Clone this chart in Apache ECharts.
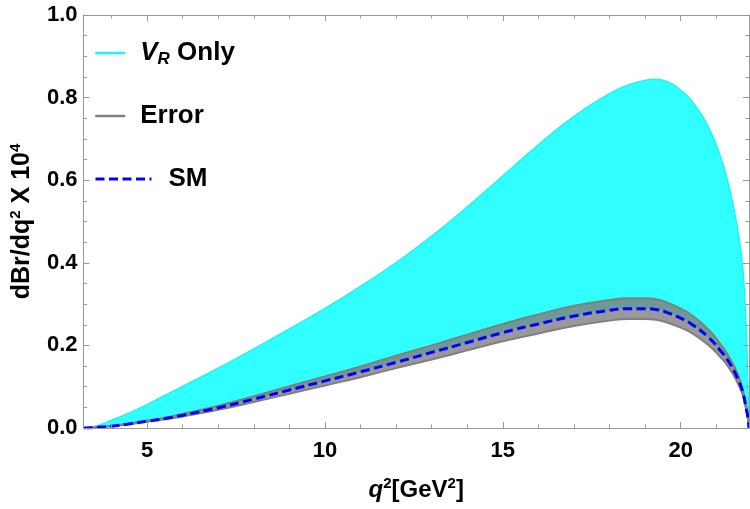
<!DOCTYPE html>
<html>
<head>
<meta charset="utf-8">
<title>dBr/dq2</title>
<script src="https://cdn.jsdelivr.net/npm/echarts@6/dist/echarts.min.js"></script>
<style>
    html, body { margin: 0; padding: 0; background: #fff; }
    #chart { width: 750px; height: 509px; }
</style>
</head>
<body>
<div id="chart"></div>
<script>
// q^2 sample points (GeV^2)
var q2 = [3.21, 3.6, 4, 4.5, 5, 5.5, 6, 7, 8, 9, 10, 11, 12, 13, 14, 15, 16, 17, 18, 18.5,
    19, 19.3, 19.7, 20, 20.35, 20.8, 21.1, 21.3, 21.5, 21.65, 21.75, 21.84, 21.89, 21.92];
// SM central value
var smMid = [0, 0.0015, 0.0045, 0.010, 0.0165, 0.023, 0.031, 0.049, 0.070, 0.092, 0.114, 0.136, 0.159, 0.183, 0.207, 0.231, 0.252, 0.271, 0.285, 0.289,
    0.289, 0.287, 0.277, 0.266, 0.249, 0.218, 0.189, 0.167, 0.138, 0.110, 0.085, 0.048, 0.025, 0];
// SM error band
var errLow = [0, 0.0013, 0.004, 0.009, 0.015, 0.021, 0.028, 0.044, 0.063, 0.083, 0.103, 0.123, 0.145, 0.166, 0.188, 0.210, 0.229, 0.247, 0.260, 0.264,
    0.264, 0.262, 0.253, 0.243, 0.228, 0.199, 0.173, 0.153, 0.126, 0.100, 0.078, 0.044, 0.023, 0];
var errHigh = [0, 0.0017, 0.005, 0.011, 0.018, 0.025, 0.034, 0.054, 0.077, 0.101, 0.125, 0.149, 0.175, 0.200, 0.226, 0.252, 0.275, 0.296, 0.310, 0.314,
    0.314, 0.312, 0.301, 0.289, 0.271, 0.237, 0.205, 0.181, 0.150, 0.120, 0.092, 0.052, 0.027, 0];
// V_R only: upper edge (lower edge is the SM curve)
var vrHigh = [0, 0.006, 0.019, 0.037, 0.057, 0.079, 0.101, 0.145, 0.192, 0.240, 0.290, 0.343, 0.401, 0.465, 0.536, 0.611, 0.686, 0.755, 0.810, 0.830,
    0.842, 0.845, 0.836, 0.818, 0.788, 0.725, 0.662, 0.605, 0.530, 0.455, 0.385, 0.250, 0.110, 0];

var xMajor = [5, 10, 15, 20];
var xMinor = [4, 6, 7, 8, 9, 11, 12, 13, 14, 16, 17, 18, 19, 21];
var xMin = 3.21, xMax = 21.92;

function pairs(ys) {
    return q2.map(function (x, i) { return [x, ys[i]]; });
}

var FONT = '"Liberation Sans", Arial, Helvetica, sans-serif';
var frameColor = '#999999';
var SMOOTH = 0.5;

var chart = echarts.init(document.getElementById('chart'));

// one bottom/top pair carries the major ticks, another the minor ones
function xAx(pos, ticks, len, withLabels) {
    var ax = {
        type: 'value', position: pos, min: xMin, max: xMax, z: 10,
        splitLine: { show: false },
        axisLine: { show: withLabels !== null, lineStyle: { color: frameColor, width: 1 } },
        axisTick: { show: true, inside: true, length: len, customValues: ticks, lineStyle: { color: frameColor } },
        axisLabel: { show: false }
    };
    if (withLabels) {
        ax.axisLabel = {
            show: true, customValues: xMajor, margin: 12,
            color: '#000', fontFamily: FONT, fontWeight: 'bold', fontSize: 22
        };
        ax.name = '{i|q}{sup|2}[GeV{sup|2}]';
        ax.nameLocation = 'middle';
        ax.nameGap = 48;
        ax.nameTextStyle = {
            color: '#000', fontFamily: FONT, fontWeight: 'bold', fontSize: 24, lineHeight: 28,
            rich: {
                i: { fontStyle: 'italic', fontWeight: 'bold', fontSize: 24, fontFamily: FONT, lineHeight: 28 },
                sup: { fontSize: 15, fontWeight: 'bold', fontFamily: FONT, verticalAlign: 'top', lineHeight: 28 }
            }
        };
    }
    return ax;
}

function yAx(pos, withLabels) {
    var ax = {
        type: 'value', position: pos, min: 0, max: 1, interval: 0.2, z: 10,
        splitLine: { show: false },
        axisLine: { show: true, lineStyle: { color: frameColor, width: 1 } },
        axisTick: { show: true, inside: true, length: 6, lineStyle: { color: frameColor } },
        minorTick: { show: true, splitNumber: 4, length: 3.5, lineStyle: { color: frameColor } },
        axisLabel: { show: false }
    };
    if (withLabels) {
        ax.axisLabel = {
            show: true, margin: 6, color: '#000', fontFamily: FONT, fontWeight: 'bold', fontSize: 22,
            formatter: function (v) { return v.toFixed(1); }
        };
        ax.name = 'dBr/dq{sup|2} X 10{sup|4}';
        ax.nameLocation = 'middle';
        ax.nameRotate = 90;
        ax.nameGap = 46;
        ax.nameTextStyle = {
            color: '#000', fontFamily: FONT, fontWeight: 'bold', fontSize: 25, lineHeight: 28,
            rich: {
                sup: { fontSize: 15, fontWeight: 'bold', fontFamily: FONT, verticalAlign: 'top', lineHeight: 28 }
            }
        };
    }
    return ax;
}

var legendText = {
    color: '#000', fontFamily: FONT, fontWeight: 'bold', fontSize: 26, lineHeight: 30,
    rich: {
        it: { fontStyle: 'italic', fontWeight: 'bold', fontSize: 26, fontFamily: FONT, lineHeight: 30 },
        sub: { fontStyle: 'italic', fontWeight: 'bold', fontSize: 17, fontFamily: FONT, verticalAlign: 'bottom', lineHeight: 30 }
    }
};
var noSymbol = { opacity: 0, borderWidth: 0 };

// bands: filled areas down to zero, the part under the lower edge painted white again
function lineSeries(name, ys, line, area) {
    var s = {
        name: name, type: 'line', data: pairs(ys),
        symbol: 'none', smooth: SMOOTH, silent: true,
        lineStyle: line,
        itemStyle: { color: line.color || '#fff' }
    };
    if (area) s.areaStyle = { color: area, opacity: 1 };
    return s;
}

var option = {
    animation: false,
    backgroundColor: '#fff',
    grid: { left: 79, right: 1, top: 15, bottom: 81 },
    xAxis: [
        xAx('bottom', xMajor, 6, true),
        xAx('bottom', xMinor, 3.5, null),
        xAx('top', xMajor, 6, false),
        xAx('top', xMinor, 3.5, null)
    ],
    yAxis: [yAx('left', true), yAx('right', false)],
    legend: [{
        orient: 'vertical', left: 94, top: 38, padding: 0, itemGap: 33,
        itemWidth: 30, itemHeight: 14, selectedMode: false,
        textStyle: Object.assign({ padding: [0, 0, 0, 10] }, legendText),
        formatter: function (name) {
            if (name === 'V_R Only') return '{it|V}{sub|R} Only';
            return name;
        },
        data: [
            { name: 'V_R Only', itemStyle: noSymbol, lineStyle: { width: 2.5, color: '#1cf5f5' } },
            { name: 'Error', itemStyle: noSymbol, lineStyle: { width: 2.5, color: '#808080' } }
        ]
    }, {
        orient: 'vertical', left: 94, top: 164, padding: 0,
        itemWidth: 56, itemHeight: 14, selectedMode: false,
        textStyle: Object.assign({ padding: [0, 0, 0, 12] }, legendText),
        data: [{ name: 'SM', itemStyle: noSymbol, lineStyle: { width: 3 } }]
    }],
    series: [
        lineSeries('V_R Only', vrHigh, { color: '#14f2f2', width: 1.2 }, '#30ffff'),
        lineSeries('vrCover', smMid, { width: 0, opacity: 0 }, '#ffffff'),
        lineSeries('Error', errHigh, { color: '#808080', width: 2 }, 'rgba(128,128,128,0.8)'),
        lineSeries('errCover', errLow, { color: '#808080', width: 2 }, '#ffffff'),
        lineSeries('SM', smMid, { color: '#0000ff', width: 3, type: [9, 4.5] }, null)
    ]
};

chart.setOption(option);
</script>
</body>
</html>
